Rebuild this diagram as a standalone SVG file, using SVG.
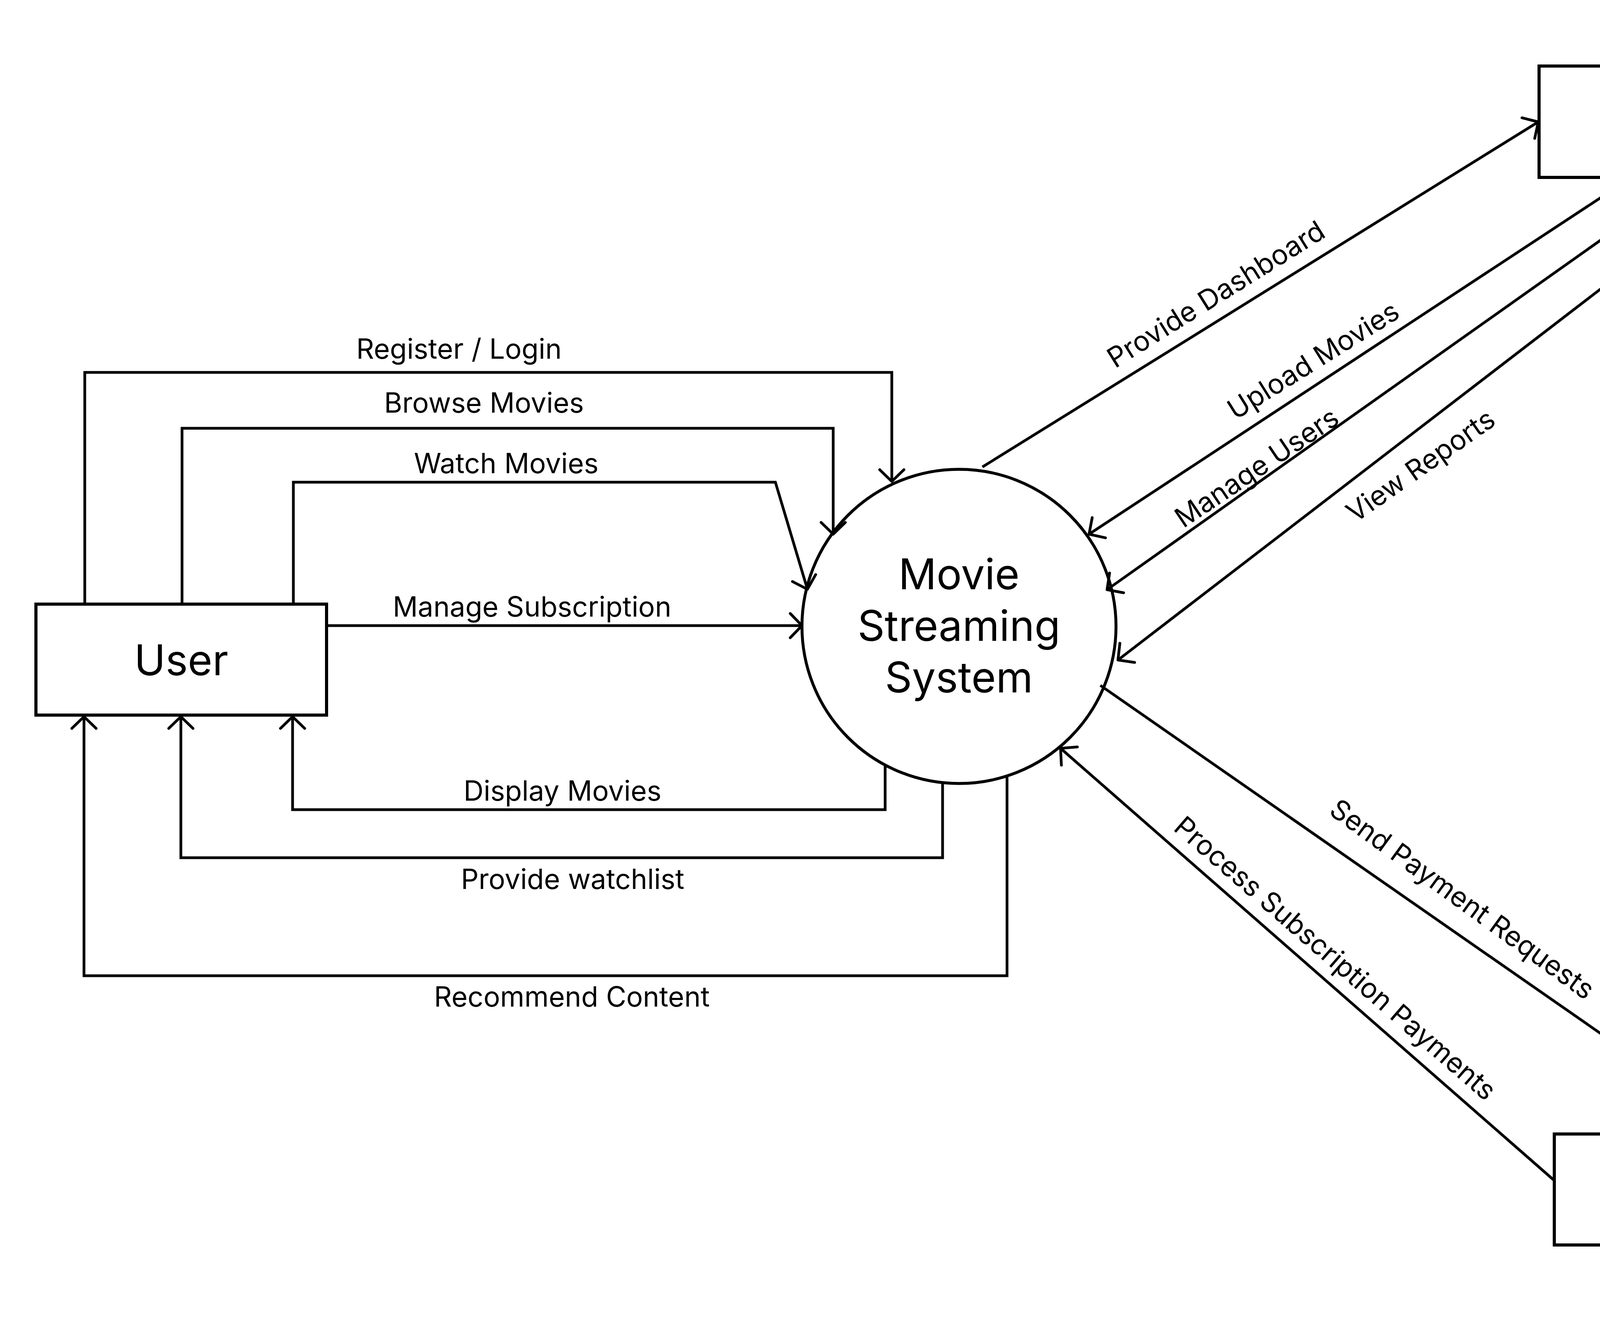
<svg xmlns="http://www.w3.org/2000/svg" width="4836" height="3378" viewBox="0 0 4836 3378">
<style>
.box{fill:#fff;stroke:#000;stroke-width:8}
.node{font-family:Inter,"Liberation Sans",sans-serif;font-size:108px;fill:#000;text-anchor:middle}
.lbl{font-family:Inter,"Liberation Sans",sans-serif;font-size:71px;fill:#000;text-anchor:middle}
.ln{fill:none;stroke:#000;stroke-width:7;stroke-linejoin:miter}
.ar{marker-end:url(#arr)}
</style>
<defs>
<marker id="arr" markerUnits="userSpaceOnUse" viewBox="-40 -40 50 80" markerWidth="50" markerHeight="80" refX="0" refY="0" orient="auto" overflow="visible">
<path d="M-30,-31 L0,0 L-30,31" fill="none" stroke="#000" stroke-width="7" stroke-linecap="round" stroke-linejoin="round"/>
</marker>
</defs>
<rect width="4836" height="3378" fill="#fff"/>
<g id="connectors">
<path class="ln ar" d="M217,1545 V953 H2283 V1232"/>
<path class="ln ar" d="M466,1545 V1096 H2133 V1367"/>
<path class="ln ar" d="M751,1545 V1234 H1985 L2067,1508"/>
<path class="ln ar" d="M837,1601 H2053"/>
<path class="ln ar" d="M2266,1959 V2072 H749 V1834"/>
<path class="ln ar" d="M2413,2005 V2195 H463 V1834"/>
<path class="ln ar" d="M2578,1989 V2497 H215 V1834"/>
<path class="ln ar" d="M2515,1195 L3938,312"/>
<path class="ln ar" d="M4160,465 L2788,1367"/>
<path class="ln ar" d="M4309,465 L2834,1509"/>
<path class="ln ar" d="M4460,461 L2862,1689"/>
<path class="ln ar" d="M2817,1754 L4463,2899"/>
<path class="ln ar" d="M3979,3021 L2715,1915"/>
<g id="labels">
<text class="lbl" x="1175" y="918">Register / Login</text>
<text class="lbl" x="1239" y="1056">Browse Movies</text>
<text class="lbl" x="1296" y="1211">Watch Movies</text>
<text class="lbl" x="1362" y="1578">Manage Subscription</text>
<text class="lbl" x="1440" y="2049">Display Movies</text>
<text class="lbl" x="1466" y="2275">Provide watchlist</text>
<text class="lbl" x="1464" y="2576">Recommend Content</text>
<text class="lbl" transform="translate(3126,774) rotate(-32)">Provide Dashboard</text>
<text class="lbl" transform="translate(3375,943) rotate(-32)">Upload Movies</text>
<text class="lbl" transform="translate(3231,1217) rotate(-34)">Manage Users</text>
<text class="lbl" transform="translate(3651,1212) rotate(-35)">View Reports</text>
<text class="lbl" transform="translate(3729,2321) rotate(36)">Send Payment Requests</text>
<text class="lbl" transform="translate(3402,2471) rotate(41)">Process Subscription Payments</text>
</g>
</g>
<g id="user">
<rect class="box" x="92" y="1546" width="744" height="284"/>
<text class="node" x="464" y="1728">User</text>
</g>
<g id="system">
<circle cx="2455" cy="1603" r="402" fill="none" stroke="#000" stroke-width="7.5"/>
<text class="node" x="2455" y="1508">Movie</text>
<text class="node" x="2455" y="1640">Streaming</text>
<text class="node" x="2455" y="1772">System</text>
</g>
<g id="admin">
<rect class="box" x="3940" y="169" width="744" height="285"/>
<text class="node" x="4312" y="350">Admin</text>
</g>
<g id="payment-gateway">
<rect class="box" x="3979" y="2902" width="743" height="284"/>
<text class="node" x="4350" y="3030" style="font-size:96px">Payment</text>
<text class="node" x="4350" y="3147" style="font-size:96px">Gateway</text>
</g>
</svg>
